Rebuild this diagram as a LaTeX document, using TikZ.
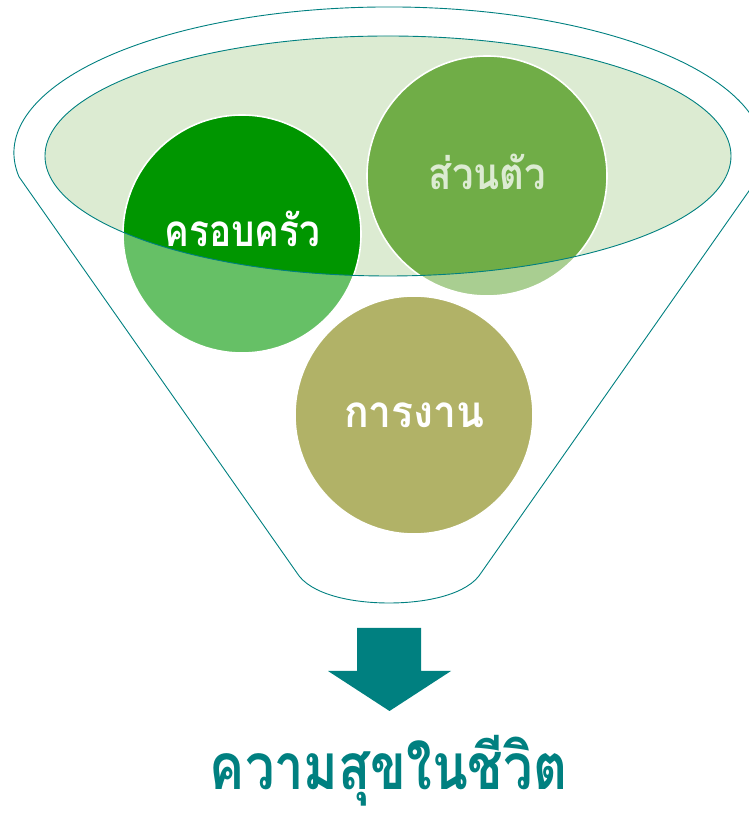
\documentclass[tikz,border=0pt]{standalone}
\usepackage{fontspec}
\newfontfamily\thaifont[Script=Thai]{Loma}
\definecolor{teal1}{RGB}{0,128,128}
\definecolor{cfam}{RGB}{0,150,0}
\definecolor{cown}{RGB}{112,173,71}
\definecolor{cwork}{RGB}{177,178,103}
\definecolor{elfill}{RGB}{220,235,210}
\begin{document}
\begin{tikzpicture}[x=1pt,y=1pt,
  outline/.style={draw=teal1,line width=0.9pt},
  bubble/.style={draw=white,line width=1.6pt},
  lbl/.style={font=\thaifont\bfseries\fontsize{44}{44}\selectfont,anchor=base,inner sep=0pt}]
\useasboundingbox (0,0) rectangle (748,816);
% funnel outline
\draw[outline] (19,639.2) arc[start angle=189.4,end angle=-9.4,x radius=375,y radius=146]
  -- (481,243) .. controls (468,222) and (428,213) .. (389,213)
  .. controls (350,213) and (310,222) .. (297,243) -- cycle;
% inner ellipse fill
\fill[elfill] (388,660) ellipse[x radius=343,y radius=120];
% circles, translucent outside
\fill[cfam,opacity=0.6] (242,582) circle[radius=119];
\fill[cown,opacity=0.6] (487,640) circle[radius=120];
\fill[cwork] (414,401) circle[radius=119];
\begin{scope}
  \clip (388,660) ellipse[x radius=343,y radius=120];
  \fill[cfam] (242,582) circle[radius=119];
  \fill[cown] (487,640) circle[radius=120];
\end{scope}
\draw[bubble] (242,582) circle[radius=119];
\draw[bubble] (487,640) circle[radius=120];
\draw[bubble] (414,401) circle[radius=119];
\draw[outline] (388,660) ellipse[x radius=343,y radius=120];
% labels
\node[lbl,text=white] (fam) at (242.5,569) {\scalebox{0.84}[1]{ครอบครัว}};
\node[lbl,text=elfill] (own) at (487.5,626) {\scalebox{0.87}[1]{ส่วนตัว}};
\node[lbl,text=white] (work) at (414.5,388) {\scalebox{0.93}[1]{การงาน}};
% arrow
\fill[teal1] (357,188) -- (421,188) -- (421,145) -- (451,145) -- (389.5,105) -- (328,145) -- (357,145) -- cycle;
% title
\node[font=\thaifont\bfseries\fontsize{64}{64}\selectfont,text=teal1,anchor=base,inner sep=0pt] (title) at (388.5,27) {\scalebox{0.82}[1]{ความสุขในชีวิต}};
\end{tikzpicture}
\end{document}
